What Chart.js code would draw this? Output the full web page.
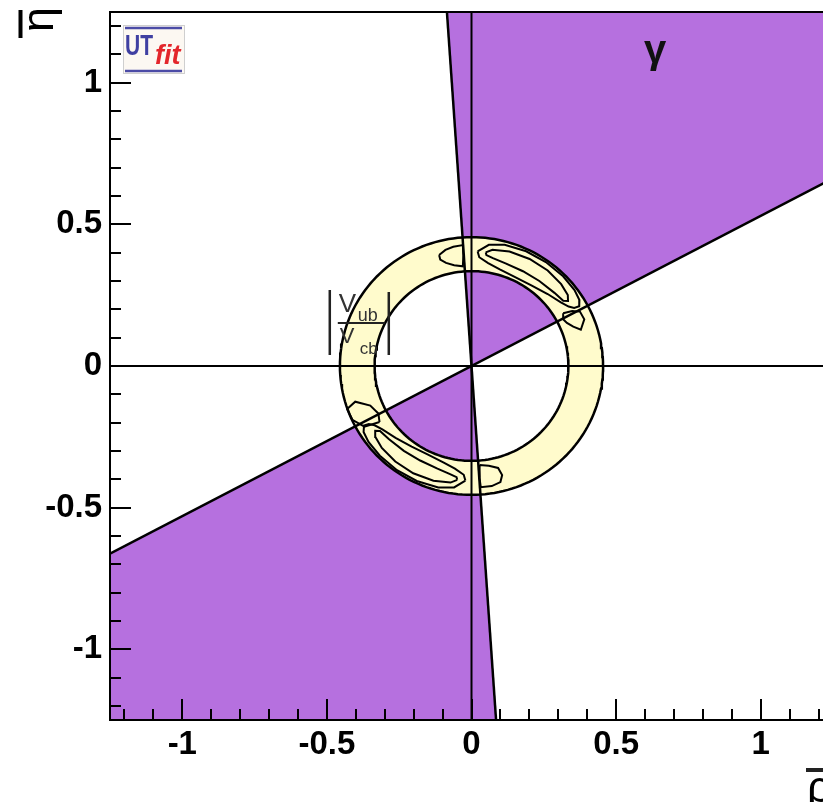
<!DOCTYPE html>
<html>
<head>
<meta charset="utf-8">
<style>
  html, body { margin: 0; padding: 0; background: #fff; overflow: hidden; }
  #wrap { width: 850px; height: 802px; }
</style>
<script src="https://cdn.jsdelivr.net/npm/chart.js@4.4.1/dist/chart.umd.min.js"></script>
</head>
<body>
<div id="wrap"><canvas id="ut" width="850" height="802"></canvas></div>
<script>
// ---- plane limits and ticks ----
const rhoRange = [-1.25, 1.25];
const etaRange = [-1.25, 1.25];
const majorTicks = [-1, -0.5, 0, 0.5, 1];
const majorTickLabels = ['-1', '-0.5', '0', '0.5', '1'];
const minorTicks = [-1.2, -1.1, -0.9, -0.8, -0.7, -0.6, -0.4, -0.3, -0.2, -0.1,
                    0.1, 0.2, 0.3, 0.4, 0.6, 0.7, 0.8, 0.9, 1.1, 1.2];

// ---- gamma constraint: two allowed wedges bounded by lines through the origin ----
const gammaUpper = [[0, 0], [1.25, 0.6625], [1.25, 1.25], [-0.085, 1.25]];
const gammaLower = [[0, 0], [0.085, -1.25], [-1.25, -1.25], [-1.25, -0.6625]];
const gammaEdgeLow = [[-1.25, -0.6625], [1.25, 0.6625]];
const gammaEdgeHigh = [[-0.085, 1.25], [0.085, -1.25]];

// ---- |Vub/Vcb| band: inner and outer radius around the origin ----
const ringRadii = [0.335, 0.455];

// ---- combined-fit contours, given as (angle in degrees, radius) ----
const fitUpper95 = [[87, 0.405], [82, 0.432], [75, 0.443], [65, 0.447], [55, 0.448], [45, 0.448],
  [37, 0.446], [32, 0.44], [29.5, 0.428], [30, 0.41], [32, 0.396], [36, 0.382], [44, 0.366],
  [54, 0.352], [64, 0.348], [74, 0.355], [81, 0.368], [86, 0.385]];
const fitUpper68 = [[83, 0.404], [80, 0.417], [72, 0.425], [62, 0.428], [52, 0.428], [43, 0.424],
  [37, 0.417], [34.5, 0.405], [36, 0.392], [42, 0.386], [52, 0.381], [62, 0.379], [72, 0.381],
  [79, 0.388], [82.5, 0.395]];
const fitLower95 = [[267, 0.405], [262, 0.433], [255, 0.444], [245, 0.448], [235, 0.449], [225, 0.448],
  [217, 0.446], [212, 0.44], [209.5, 0.427], [210, 0.41], [212, 0.395], [216, 0.381], [224, 0.365],
  [234, 0.352], [244, 0.347], [254, 0.354], [261, 0.367], [266, 0.385]];
const fitLower68 = [[263, 0.405], [260, 0.418], [252, 0.426], [242, 0.429], [232, 0.428], [223, 0.424],
  [217, 0.416], [214.5, 0.404], [216, 0.391], [222, 0.385], [232, 0.38], [242, 0.378], [252, 0.381],
  [259, 0.389], [262.5, 0.396]];

// smaller islands of the combined fit, given as (rho, eta)
const fitUpperSmall = [[-0.112, 0.392], [-0.09, 0.41], [-0.063, 0.421], [-0.03, 0.427], [-0.028, 0.39],
  [-0.03, 0.352], [-0.06, 0.356], [-0.088, 0.364], [-0.108, 0.376]];
const fitLowerSmall = [[0.028, -0.35], [0.06, -0.352], [0.092, -0.36], [0.106, -0.385], [0.1, -0.41],
  [0.07, -0.424], [0.032, -0.428], [0.027, -0.39]];
const fitUpperCross = [[0.317, 0.186], [0.348, 0.194], [0.375, 0.192], [0.39, 0.165], [0.378, 0.128],
  [0.352, 0.139], [0.33, 0.152], [0.317, 0.165]];
const fitLowerCross = [[-0.318, -0.198], [-0.37, -0.214], [-0.412, -0.19], [-0.43, -0.152],
  [-0.402, -0.126], [-0.35, -0.14], [-0.322, -0.168]];

// ---- colours ----
const PURPLE = '#b670df';
const CREAM = '#fffbcc';
const INK = '#000000';

// ---- helpers ----
const pts = list => list.map(([x, y]) => ({ x, y }));
const closed = list => pts([...list, list[0]]);
const polar = list => list.map(([d, r]) => [r * Math.cos(d * Math.PI / 180), r * Math.sin(d * Math.PI / 180)]);
function arc(r, from, to, n) {
  const out = [];
  for (let i = 0; i <= n; i++) {
    const d = from + (to - from) * i / n;
    out.push([r * Math.cos(d * Math.PI / 180), r * Math.sin(d * Math.PI / 180)]);
  }
  return out;
}

const fillSet = (data, color) => ({
  data, fill: 'shape', backgroundColor: color, borderColor: 'rgba(0,0,0,0)', borderWidth: 1
});
const lineSet = (data, width) => ({
  data, fill: false, borderColor: INK, borderWidth: width || 2, backgroundColor: 'rgba(0,0,0,0)'
});

// band drawn as outer circle one way and inner circle the other way, leaving a hole
const ringOuter = arc(ringRadii[1], 0, 360, 180);
const ringInner = arc(ringRadii[0], 360, 0, 180);

// listed from bottom layer to top layer
const layers = [
  fillSet(closed(gammaUpper), PURPLE),
  fillSet(closed(gammaLower), PURPLE),
  fillSet(pts([...ringOuter, ...ringInner]), CREAM),
  lineSet(pts(ringOuter), 2.5),
  lineSet(pts(ringInner), 2.5),
  lineSet(closed(polar(fitUpper95))),
  lineSet(closed(polar(fitUpper68))),
  lineSet(closed(polar(fitLower95))),
  lineSet(closed(polar(fitLower68))),
  lineSet(closed(fitUpperSmall)),
  lineSet(closed(fitLowerSmall)),
  lineSet(closed(fitUpperCross)),
  lineSet(closed(fitLowerCross)),
  lineSet(pts(gammaEdgeLow), 2.5),
  lineSet(pts(gammaEdgeHigh), 2.5),
  lineSet(pts([[0, etaRange[0]], [0, etaRange[1]]])),
  lineSet(pts([[rhoRange[0], 0], [rhoRange[1], 0]]))
];
layers.forEach((d, i) => { d.order = layers.length - i; });

// frame, inward ticks, titles and annotations
const decor = {
  id: 'decor',
  afterDraw(chart) {
    const { ctx, chartArea: a, scales: { x, y } } = chart;
    ctx.save();
    ctx.strokeStyle = INK;
    ctx.lineWidth = 2;
    ctx.beginPath();
    const tick = (v, len) => {
      const px = Math.round(x.getPixelForValue(v));
      ctx.moveTo(px, a.bottom); ctx.lineTo(px, a.bottom - len);
      const py = Math.round(y.getPixelForValue(v));
      ctx.moveTo(a.left, py); ctx.lineTo(a.left + len, py);
    };
    majorTicks.forEach(v => tick(v, 21));
    minorTicks.forEach(v => tick(v, 11));
    ctx.stroke();
    ctx.strokeRect(a.left, a.top, a.right - a.left, a.bottom - a.top);

    // gamma label
    ctx.fillStyle = '#111';
    ctx.font = 'bold 40px "Liberation Sans", sans-serif';
    ctx.textAlign = 'center';
    ctx.textBaseline = 'alphabetic';
    ctx.fillText('γ', x.getPixelForValue(0.635), y.getPixelForValue(1.07));

    // |Vub / Vcb| label
    const lx = x.getPixelForValue(-0.49), ly = y.getPixelForValue(0.155);
    ctx.strokeStyle = '#222';
    ctx.lineWidth = 2.5;
    ctx.beginPath();
    ctx.moveTo(lx, ly - 32); ctx.lineTo(lx, ly + 33);
    ctx.moveTo(lx + 59, ly - 30); ctx.lineTo(lx + 59, ly + 33);
    ctx.stroke();
    ctx.lineWidth = 2;
    ctx.beginPath();
    ctx.moveTo(lx + 8, ly + 1); ctx.lineTo(lx + 55, ly + 1);
    ctx.stroke();
    ctx.fillStyle = '#333';
    ctx.textAlign = 'left';
    ctx.font = '26px "Liberation Sans", sans-serif';
    ctx.fillText('V', lx + 9, ly - 10);
    ctx.font = '18px "Liberation Sans", sans-serif';
    ctx.fillText('ub', lx + 28, ly - 1);
    ctx.font = '22px "Liberation Sans", sans-serif';
    ctx.fillText('V', lx + 10, ly + 21);
    ctx.font = '17px "Liberation Sans", sans-serif';
    ctx.fillText('cb', lx + 30, ly + 32);

    // y title: eta-bar, rotated, at the top of the axis
    ctx.save();
    ctx.translate(a.left - 57, a.top + 20);
    ctx.rotate(-Math.PI / 2);
    ctx.fillStyle = INK;
    ctx.font = '45px "Liberation Sans", sans-serif';
    ctx.textAlign = 'left';
    ctx.fillText('η', 0, 0);
    ctx.lineWidth = 4;
    ctx.strokeStyle = INK;
    ctx.beginPath();
    ctx.moveTo(-6, -32.5); ctx.lineTo(22, -32.5);
    ctx.stroke();
    ctx.restore();

    // x title: rho-bar, at the right end of the axis
    ctx.fillStyle = INK;
    ctx.font = '45px "Liberation Sans", sans-serif';
    ctx.textAlign = 'left';
    ctx.fillText('ρ', a.right - 26, a.bottom + 82);
    ctx.lineWidth = 4;
    ctx.beginPath();
    ctx.moveTo(a.right - 27, a.bottom + 50); ctx.lineTo(a.right + 1, a.bottom + 50);
    ctx.stroke();

    // UTfit badge
    const bx = a.left + 13, by = a.top + 13;
    ctx.fillStyle = '#fcf8f2';
    ctx.fillRect(bx, by, 61, 48);
    ctx.strokeStyle = '#cfcfcf';
    ctx.lineWidth = 1;
    ctx.strokeRect(bx + 0.5, by + 0.5, 61, 48);
    ctx.strokeStyle = '#4b4ba6';
    ctx.lineWidth = 2.5;
    ctx.beginPath();
    ctx.moveTo(bx + 2, by + 3); ctx.lineTo(bx + 59, by + 3);
    ctx.moveTo(bx + 2, by + 46); ctx.lineTo(bx + 59, by + 46);
    ctx.stroke();
    ctx.save();
    ctx.translate(bx + 2, by + 30);
    ctx.scale(0.7, 1);
    ctx.fillStyle = '#3f40a2';
    ctx.font = 'bold 30px "Liberation Sans", sans-serif';
    ctx.fillText('UT', 0, 0);
    ctx.restore();
    ctx.fillStyle = '#e3262b';
    ctx.font = 'italic bold 27px "Liberation Sans", sans-serif';
    ctx.fillText('fit', bx + 32, by + 39);
    ctx.restore();
  }
};

const tickFont = { family: '"Liberation Sans", Arial, sans-serif', size: 33, weight: 'bold' };
const axisCommon = {
  type: 'linear',
  grid: { display: false, drawTicks: false },
  border: { display: false },
  afterBuildTicks: s => { s.ticks = majorTicks.map(v => ({ value: v })); }
};

new Chart(document.getElementById('ut'), {
  type: 'line',
  data: { datasets: layers },
  options: {
    responsive: false,
    animation: false,
    events: [],
    layout: { padding: { top: 12, right: 17, left: 0, bottom: 0 } },
    elements: { point: { radius: 0 }, line: { tension: 0 } },
    plugins: { legend: { display: false }, tooltip: { enabled: false } },
    scales: {
      x: Object.assign({}, axisCommon, {
        min: rhoRange[0], max: rhoRange[1],
        ticks: { font: tickFont, color: INK, padding: 5, maxRotation: 0, autoSkip: false,
                 callback: (v, i) => majorTickLabels[i] },
        afterFit: s => { s.height = 82; s.paddingLeft = 0; s.paddingRight = 0; }
      }),
      y: Object.assign({}, axisCommon, {
        min: etaRange[0], max: etaRange[1],
        ticks: { font: tickFont, color: INK, padding: 8, autoSkip: false,
                 callback: (v, i) => majorTickLabels[i] },
        afterFit: s => { s.width = 110; s.paddingTop = 0; s.paddingBottom = 0; }
      })
    }
  },
  plugins: [decor]
});
</script>
</body>
</html>
